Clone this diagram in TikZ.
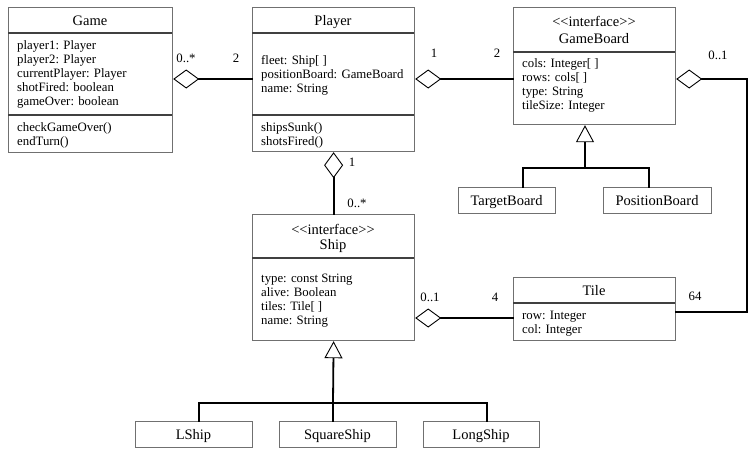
\documentclass[tikz,border=0pt]{standalone}
\usepackage{fontspec}
\setmainfont{Liberation Serif}
\usetikzlibrary{arrows.meta}
\definecolor{boxgray}{HTML}{707070}
\definecolor{sepgray}{HTML}{404040}
\newcommand{\stereo}[1]{<\kern0pt<#1>\kern0pt>}
\tikzset{
  cls/.style={draw=boxgray, line width=1.2pt, anchor=north west, inner sep=0pt},
  sepline/.style={draw=sepgray, line width=1.6pt},
  conn/.style={line width=1.8pt, line cap=rect},
  attr/.style={anchor=base west, inner sep=0pt, font=\fontsize{12.8}{14}\selectfont},
  ttl/.style={anchor=base, inner sep=0pt, font=\fontsize{14.5}{16}\selectfont},
  mult/.style={anchor=base, inner sep=0pt, font=\fontsize{12.8}{14}\selectfont},
  aggtip/.style={{Diamond[open, length=26pt, width=19pt, line width=0.9pt, fill=white]}-},
  gentip/.style={{Triangle[open, length=17pt, width=18pt, line width=0.9pt, fill=white]}-}
}
\begin{document}
\begin{tikzpicture}[x=1pt,y=-1pt]
\useasboundingbox (0,0) rectangle (755,455);
% ---------- Game
\node[cls, minimum width=164pt, minimum height=145pt] (game) at (8,7) {};
\draw[sepline] (8,33) -- (172,33) (8,115) -- (172,115);
\node[ttl] (gamet) at (90,25) {Game};
\node[attr] (g1) at (17,49) {player1: Player};
\node[attr] (g2) at (17,63) {player2: Player};
\node[attr] (g3) at (17,77) {currentPlayer: Player};
\node[attr] (g4) at (17,91) {shotFired: boolean};
\node[attr] (g5) at (17,105) {gameOver: boolean};
\node[attr] (g6) at (17,131) {checkGameOver()};
\node[attr] (g7) at (17,145) {endTurn()};
% ---------- Player
\node[cls, minimum width=162pt, minimum height=144pt] (player) at (252,7) {};
\draw[sepline] (252,33) -- (414,33) (252,115) -- (414,115);
\node[ttl] (playert) at (333,25) {Player};
\node[attr] (p1) at (261,64) {fleet: Ship[ ]};
\node[attr] (p2) at (261,78) {positionBoard: GameBoard};
\node[attr] (p3) at (261,92) {name: String};
\node[attr] (p4) at (261,131) {shipsSunk()};
\node[attr] (p5) at (261,145) {shotsFired()};
% ---------- GameBoard
\node[cls, minimum width=162pt, minimum height=117pt] (board) at (513,7) {};
\draw[sepline] (513,52) -- (675,52);
\node[ttl] (boardt1) at (594,27) {\stereo{interface}};
\node[ttl] (boardt2) at (594,43) {GameBoard};
\node[attr] (b1) at (522,67) {cols: Integer[ ]};
\node[attr] (b2) at (522,81) {rows: cols[ ]};
\node[attr] (b3) at (522,95) {type: String};
\node[attr] (b4) at (522,109) {tileSize: Integer};
% ---------- TargetBoard / PositionBoard
\node[cls, minimum width=97pt, minimum height=26pt] (target) at (458,187) {};
\node[ttl] (targett) at (506.5,205) {TargetBoard};
\node[cls, minimum width=108pt, minimum height=26pt] (position) at (603,187) {};
\node[ttl] (positiont) at (657,205) {PositionBoard};
% ---------- Ship
\node[cls, minimum width=162pt, minimum height=126pt] (ship) at (252,214) {};
\draw[sepline] (252,258) -- (414,258);
\node[ttl] (shipt1) at (333,234) {\stereo{interface}};
\node[ttl] (shipt2) at (333,249) {Ship};
\node[attr] (s1) at (261,282) {type: const String};
\node[attr] (s2) at (261,296) {alive: Boolean};
\node[attr] (s3) at (261,310) {tiles: Tile[ ]};
\node[attr] (s4) at (261,324) {name: String};
% ---------- Tile
\node[cls, minimum width=162pt, minimum height=63pt] (tile) at (513,277) {};
\draw[sepline] (513,303) -- (675,303);
\node[ttl] (tilet) at (594,295) {Tile};
\node[attr] (t1) at (522,319) {row: Integer};
\node[attr] (t2) at (522,333) {col: Integer};
% ---------- Ship subclasses
\node[cls, minimum width=117pt, minimum height=26pt] (lship) at (135,421) {};
\node[ttl] (lshipt) at (193.5,439) {LShip};
\node[cls, minimum width=117pt, minimum height=26pt] (sqship) at (279,421) {};
\node[ttl] (sqshipt) at (337.5,439) {SquareShip};
\node[cls, minimum width=116pt, minimum height=26pt] (longship) at (423,421) {};
\node[ttl] (longshipt) at (481,439) {LongShip};
% ---------- connectors
\draw[conn, aggtip] (game.east |- 0,79) -- (player.west |- 0,79);
\draw[conn, aggtip] (player.east |- 0,79) -- (board.west |- 0,79);
\draw[conn, aggtip] (player.south) -- (ship.north);
\draw[conn, aggtip] (ship.east |- 0,318) -- (tile.west |- 0,318);
\coordinate (c1) at (747,79);
\coordinate (c2) at (747,312);
\draw[conn, aggtip] (board.east |- c1) -- (c1) -- (c2) -- (tile.east |- c2);
% generalization GameBoard
\coordinate (gb) at (585,168);
\draw[conn, gentip] (board.south -| gb) -- (gb);
\draw[conn] ([xshift=15.5pt]target.north) |- (gb) -| ([xshift=-9pt]position.north);
% generalization Ship
\coordinate (sb) at (333,403);
\draw[conn, gentip] (ship.south) -- (sb) -- (sqship.north -| sb);
\draw[conn] ([xshift=4.5pt]lship.north) |- (sb) -| ([xshift=5pt]longship.north);
% ---------- multiplicities
\node[mult] (m1) at (186,62) {0..*};
\node[mult] (m2) at (236,62) {2};
\node[mult] (m3) at (434,57) {1};
\node[mult] (m4) at (497,57) {2};
\node[mult] (m5) at (718,59) {0..1};
\node[mult] (m6) at (695,300) {64};
\node[mult] (m7) at (352,166) {1};
\node[mult] (m8) at (357,207) {0..*};
\node[mult] (m9) at (430,301) {0..1};
\node[mult] (m10) at (495,301) {4};
\end{tikzpicture}
\end{document}
